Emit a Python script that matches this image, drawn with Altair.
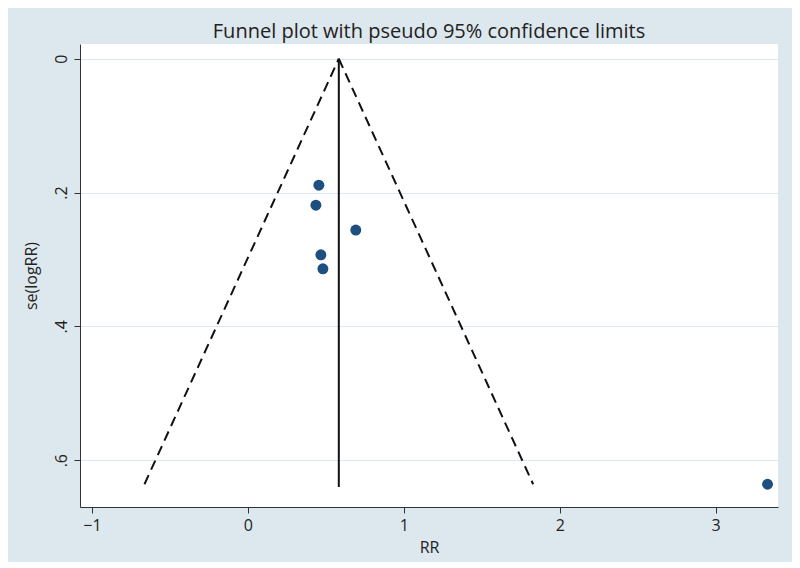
import altair as alt
import pandas as pd

# study estimates
rr = [0.455, 0.436, 0.692, 0.468, 0.481, 3.333]
se = [0.189, 0.219, 0.256, 0.293, 0.314, 0.636]

pooled = 0.583
se_max = 0.636
se_line_end = 0.640

# pseudo 95% CI limits
lim_x = [pooled, pooled - 1.96 * se_max, pooled, pooled + 1.96 * se_max]
lim_y = [0.0, se_max, 0.0, se_max]
lim_side = ["left", "left", "right", "right"]

x_ticks = [-1, 0, 1, 2, 3]
y_ticks = [0, 0.2, 0.4, 0.6]

pts = pd.DataFrame({"RR": rr, "se": se})
lims = pd.DataFrame({"RR": lim_x, "se": lim_y, "side": lim_side})
vline = pd.DataFrame({"RR": [pooled], "se": [0.0], "se2": [se_line_end]})

xs = alt.Scale(domain=[-1.077, 3.40], nice=False, zero=False)
ys = alt.Scale(domain=[-0.022, 0.670], nice=False, zero=False, reverse=True)

font = "Open Sans"
lab_expr = "datum.value == 0 ? '0' : replace(format(datum.value, '.1f'), '0.', '.')"

xaxis = alt.Axis(values=x_ticks, grid=False, title="RR", format="d",
                 labelFontSize=16, titleFontSize=16, titleFontWeight="normal",
                 tickSize=6, labelPadding=4, titlePadding=6, domainColor="#333333",
                 tickColor="#333333", labelColor="#222222", titleColor="#222222",
                 labelFont=font, titleFont=font)
yaxis = alt.Axis(values=y_ticks, grid=True, gridColor="#dbe7f1", gridWidth=1,
                 title="se(logRR)", labelExpr=lab_expr, labelAngle=-90,
                 labelAlign="center", labelBaseline="bottom",
                 labelFontSize=16, titleFontSize=16, titleFontWeight="normal",
                 tickSize=6, labelPadding=5, titlePadding=14, domainColor="#333333",
                 tickColor="#333333", labelColor="#222222", titleColor="#222222",
                 labelFont=font, titleFont=font)

points = alt.Chart(pts).mark_circle(size=120, color="#1d4f80", opacity=1).encode(
    x=alt.X("RR:Q", scale=xs, axis=xaxis),
    y=alt.Y("se:Q", scale=ys, axis=yaxis),
)

lines = alt.Chart(lims).mark_line(color="#111111", strokeWidth=2, strokeDash=[10, 6]).encode(
    x=alt.X("RR:Q", scale=xs),
    y=alt.Y("se:Q", scale=ys),
    detail="side:N",
)

rule = alt.Chart(vline).mark_rule(color="#111111", strokeWidth=2).encode(
    x=alt.X("RR:Q", scale=xs),
    y=alt.Y("se:Q", scale=ys),
    y2="se2:Q",
)

chart = alt.layer(lines, rule, points).properties(
    width=698, height=463,
    background="#dde7ee",
    padding={"left": 15, "top": 14, "right": 14, "bottom": 7},
    title=alt.TitleParams("Funnel plot with pseudo 95% confidence limits",
                          fontSize=20, font=font, fontWeight="normal",
                          color="#222222", offset=2, anchor="middle"),
).configure_view(fill="white", stroke=None)

chart.save("out.html", embed_options={"renderer": "svg", "actions": False})
